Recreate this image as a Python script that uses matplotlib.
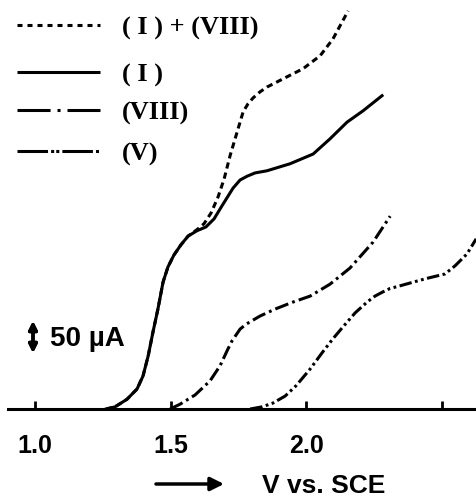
import matplotlib
matplotlib.use("Agg")
import matplotlib.pyplot as plt
from matplotlib.lines import Line2D

plt.rcParams['lines.scale_dashes'] = False

# ---- data (V vs. SCE, current in µA) ----
v_I = [1.262, 1.295, 1.339, 1.376, 1.398, 1.417, 1.435, 1.453, 1.472, 1.490,
       1.512, 1.538, 1.564, 1.597, 1.630, 1.660, 1.689, 1.730, 1.756, 1.782,
       1.811, 1.855, 1.940, 2.025, 2.087, 2.150, 2.209, 2.279]
i_I = [0, 4, 18, 37, 61, 98, 143, 185, 235, 263,
       285, 304, 320, 330, 337, 352, 376, 409, 424, 431,
       437, 441, 454, 472, 500, 531, 552, 580]

v_I_VIII = [1.262, 1.295, 1.339, 1.376, 1.398, 1.417, 1.435, 1.453, 1.472, 1.490,
            1.512, 1.538, 1.564, 1.597, 1.623, 1.649, 1.675, 1.697, 1.719, 1.745,
            1.767, 1.785, 1.804, 1.829, 1.855, 1.929, 1.988, 2.051, 2.098, 2.154]
i_I_VIII = [0, 4, 18, 37, 61, 98, 143, 185, 235, 263,
            285, 304, 320, 332, 343, 363, 393, 426, 469, 513,
            550, 565, 576, 587, 596, 615, 630, 654, 685, 737]

v_VIII = [1.498, 1.535, 1.590, 1.645, 1.682, 1.711, 1.726, 1.756, 1.778, 1.829,
          1.885, 1.951, 2.014, 2.087, 2.161, 2.246, 2.309]
i_VIII = [0, 9, 26, 52, 80, 111, 126, 148, 157, 172,
          185, 198, 209, 231, 261, 309, 357]

v_V = [1.793, 1.837, 1.877, 1.922, 1.962, 2.014, 2.058, 2.098, 2.135, 2.180,
       2.224, 2.253, 2.283, 2.308, 2.345, 2.438, 2.511, 2.548, 2.592, 2.626]
i_V = [0, 4, 11, 24, 43, 74, 104, 130, 152, 178,
       198, 209, 217, 223, 228, 241, 250, 265, 287, 315]

xticks = [1.0, 1.5, 2.0, 2.5]
xticklabels = ['1.0', '1.5', '2.0', '']

W, H = 477, 502
fig = plt.figure(figsize=(W / 100, H / 100), dpi=100)
ax = fig.add_axes([0, 92 / H, 1, 410 / H])
ax.set_xlim(0.871, 2.629)
ax.set_ylim(0, 759)

lw = 2.2
common = dict(color='k', lw=lw, clip_on=False, solid_joinstyle='round',
              dash_joinstyle='round', dash_capstyle='butt')
ax.plot(v_I_VIII, i_I_VIII, dashes=(4.5, 3.0), **common)
ax.plot(v_I, i_I, **common)
ax.plot(v_VIII, i_VIII, dashes=(10, 3, 2, 3), **common)
ax.plot(v_V, i_V, dashes=(9, 2.5, 2, 2.5, 2, 2.5), **common)

for s in ['top', 'left', 'right']:
    ax.spines[s].set_visible(False)
ax.spines['bottom'].set_linewidth(2.2)
ax.spines['bottom'].set_bounds(0.90, 2.62)
ax.set_yticks([])
ax.set_xticks(xticks)
ax.set_xticklabels(xticklabels)
ax.tick_params(axis='x', direction='in', length=6, width=2, pad=17,
               labelsize=18)
for t in ax.get_xticklabels():
    t.set_fontfamily('Liberation Sans')
    t.set_fontweight('bold')

# ---- legend (drawn manually) ----
def fx(px):
    return px / W

def fy(py):
    return 1 - py / H

leg = [
    ('( I ) + (VIII)', 26, dict(dashes=(3.6, 3.6))),
    ('( I )', 73, dict()),
    ('(VIII)', 111, dict(dashes=(23.8, 5, 2.2, 5))),
    ('(V)', 152, dict(dashes=(22, 2.2, 2.2, 1.5, 2.2, 2.2))),
]
for label, py, style in leg:
    ln = Line2D([fx(17), fx(100)], [fy(py), fy(py)], transform=fig.transFigure,
                color='k', lw=2.2, solid_capstyle='butt', dash_capstyle='butt',
                **style)
    fig.add_artist(ln)
    fig.text(fx(122), fy(py + 2), label, fontsize=19, fontweight='bold',
             family='Liberation Serif', va='center', ha='left')

# ---- scale bar ----
fig.add_artist(plt.annotate('', xy=(fx(33), fy(322)), xytext=(fx(33), fy(354)),
                            xycoords='figure fraction', textcoords='figure fraction',
                            arrowprops=dict(arrowstyle='<|-|>', lw=2.5, color='k',
                                            mutation_scale=12, shrinkA=0, shrinkB=0)))
fig.text(fx(50), fy(339), '50 µA', fontsize=20, fontweight='bold',
         family='Liberation Sans', va='center', ha='left')

# ---- x axis title with arrow ----
ax.annotate('', xy=(fx(224), fy(485)), xytext=(fx(156), fy(485)),
            xycoords='figure fraction', textcoords='figure fraction',
            arrowprops=dict(arrowstyle='-|>', lw=2.5, color='k',
                            mutation_scale=20, shrinkA=0, shrinkB=0))
fig.text(fx(262), fy(486), 'V vs. SCE', fontsize=19, fontweight='bold',
         family='Liberation Sans', va='center', ha='left')

fig.savefig('out.png', dpi=100, facecolor='white')
